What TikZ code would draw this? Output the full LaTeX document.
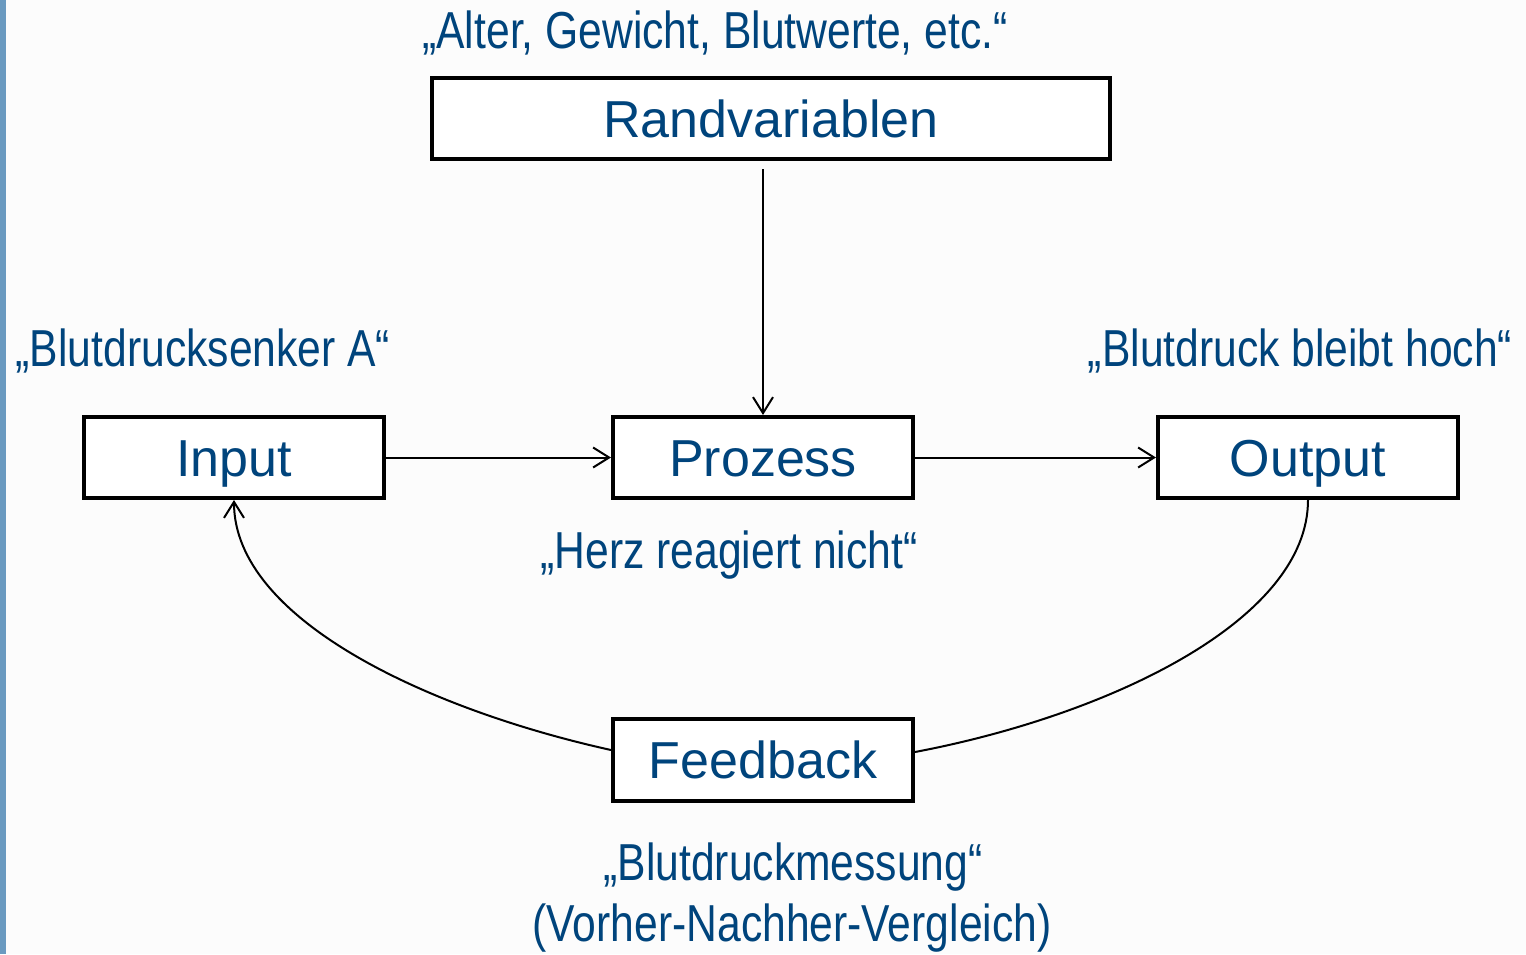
\documentclass[tikz,border=0pt]{standalone}
\usepackage{fontspec}
\setmainfont{Liberation Sans}
\newfontfamily\narrowfont[FakeStretch=0.82]{Liberation Sans}
\usepackage{xcolor}
\usepackage{tikz}
\usetikzlibrary{positioning,arrows.meta,calc}

\definecolor{txtblue}{RGB}{0,68,124}
\definecolor{barblue}{RGB}{106,154,192}
\definecolor{bgwhite}{RGB}{252,252,252}

\begin{document}
\begin{tikzpicture}[x=0.5pt,y=-0.5pt,>={Straight Barb[length=8pt,width=10pt]},
  box/.style={draw,line width=2pt,fill=white,minimum width=150pt,minimum height=40.5pt,
    inner sep=0pt,text=txtblue,font=\fontsize{26}{30}\selectfont,
    text height=18.6pt,text depth=0pt},
  lbl/.style={anchor=base,inner sep=0pt,text=txtblue,font=\narrowfont\fontsize{26}{30}\selectfont},
  conn/.style={line width=1pt}]
\useasboundingbox (0,0) rectangle (1526,954);
\fill[bgwhite] (0,0) rectangle (1526,954);
\fill[barblue] (0,0) rectangle (6,954);
% boxes
\node[box,minimum width=339pt] (rand) at (771,118.5) {Randvariablen};
\node[box] (inp) at (234,457.5) {Input};
\node[box] (proz) at (763,457.5) {Prozess};
\node[box] (outp) at (1308,457.5) {Output};
\node[box,minimum height=41pt] (feed) at (763,760) {Feedback};
% quoted examples
\node[lbl] (lrand) at (715,48) {„Alter, Gewicht, Blutwerte, etc.“};
\node[lbl] (linp) at (203,366) {„Blutdrucksenker A“};
\node[lbl] (loutp) at (1300,366) {„Blutdruck bleibt hoch“};
\node[lbl] (lproz) at (729,568) {„Herz reagiert nicht“};
\node[lbl] (lfeed) at (793,880) {„Blutdruckmessung“};
\node[lbl] (lfeed2) at (792,941) {(Vorher-Nachher-Vergleich)};
% arrows
\draw[conn,->,shorten <=4pt] (rand.south -| proz.north) -- (proz.north);
\draw[conn,->] (inp) -- (proz);
\draw[conn,->] (proz) -- (outp);
% feedback loop
\draw[conn] (outp.south) .. controls (1308,620) and (1110,715) .. ([yshift=4pt]feed.east);
\draw[conn,->] ([yshift=5pt]feed.west) .. controls (430,710) and (234,620) .. (inp.south);
\end{tikzpicture}
\end{document}
